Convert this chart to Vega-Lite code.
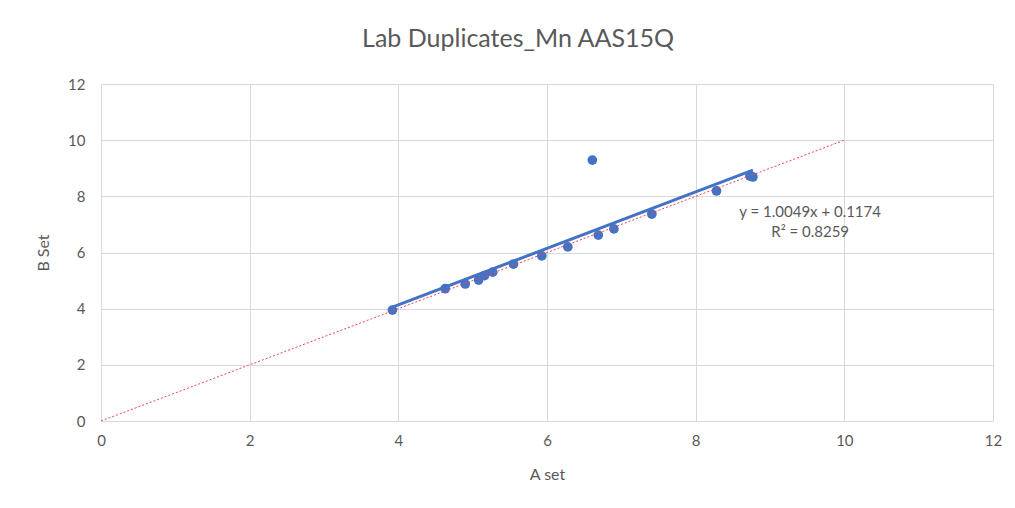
{
  "$schema": "https://vega.github.io/schema/vega-lite/v6.json",
  "width": 892,
  "height": 337,
  "autosize": {"type": "none"},
  "padding": {"left": 101, "top": 84, "right": 22, "bottom": 87},
  "background": "white",
  "title": {
    "text": "Lab Duplicates_Mn AAS15Q",
    "font": "Lato",
    "fontSize": 25,
    "fontWeight": "normal",
    "color": "#595959",
    "anchor": "middle",
    "dx": -29,
    "offset": 25
  },
  "datasets": {
    "points": [
      {"A": 3.92, "B": 3.95},
      {"A": 4.63, "B": 4.71},
      {"A": 4.90, "B": 4.88},
      {"A": 5.08, "B": 5.02},
      {"A": 5.16, "B": 5.18},
      {"A": 5.27, "B": 5.30},
      {"A": 5.55, "B": 5.59},
      {"A": 5.93, "B": 5.88},
      {"A": 6.28, "B": 6.20},
      {"A": 6.61, "B": 9.29},
      {"A": 6.69, "B": 6.62},
      {"A": 6.90, "B": 6.84},
      {"A": 7.41, "B": 7.37},
      {"A": 8.28, "B": 8.19},
      {"A": 8.73, "B": 8.72},
      {"A": 8.77, "B": 8.69}
    ],
    "trend": [
      {"A": 3.92, "B": 4.057},
      {"A": 8.77, "B": 8.93}
    ],
    "oneToOne": [
      {"A": 0, "B": 0},
      {"A": 10, "B": 10}
    ]
  },
  "config": {
    "view": {"stroke": null},
    "axis": {
      "labelFont": "Lato",
      "titleFont": "Lato",
      "labelColor": "#595959",
      "titleColor": "#595959",
      "labelFontSize": 15,
      "titleFontSize": 16,
      "titleFontWeight": "normal",
      "gridColor": "#d9d9d9",
      "gridWidth": 1,
      "ticks": false,
      "labelFlush": false,
      "domainColor": "#d9d9d9"
    }
  },
  "layer": [
    {
      "data": {"name": "trend"},
      "mark": {"type": "line", "color": "#4472c4", "strokeWidth": 3},
      "encoding": {
        "x": {
          "field": "A",
          "type": "quantitative",
          "scale": {"domain": [0, 12], "nice": false},
          "axis": {"values": [0, 2, 4, 6, 8, 10, 12], "format": "d", "title": "A set", "labelPadding": 12, "titlePadding": 18, "domain": true}
        },
        "y": {
          "field": "B",
          "type": "quantitative",
          "scale": {"domain": [0, 12], "nice": false},
          "axis": {"values": [0, 2, 4, 6, 8, 10, 12], "format": "d", "title": "B Set", "labelPadding": 16, "titlePadding": 16, "domain": false}
        }
      }
    },
    {
      "data": {"name": "points"},
      "mark": {"type": "circle", "color": "#4472c4", "opacity": 1, "size": 95},
      "encoding": {
        "x": {"field": "A", "type": "quantitative"},
        "y": {"field": "B", "type": "quantitative"}
      }
    },
    {
      "data": {"name": "oneToOne"},
      "mark": {"type": "line", "color": "#f0405a", "strokeWidth": 1, "strokeDash": [2, 2]},
      "encoding": {
        "x": {"field": "A", "type": "quantitative"},
        "y": {"field": "B", "type": "quantitative"}
      }
    },
    {
      "data": {"values": [{"label": "y = 1.0049x + 0.1174"}]},
      "mark": {"type": "text", "font": "Lato", "fontSize": 15, "color": "#595959", "align": "center", "baseline": "middle"},
      "encoding": {
        "x": {"datum": 9.54},
        "y": {"datum": 7.44},
        "text": {"field": "label"}
      }
    },
    {
      "data": {"values": [{"label": "R² = 0.8259"}]},
      "mark": {"type": "text", "font": "Lato", "fontSize": 15, "color": "#595959", "align": "center", "baseline": "middle"},
      "encoding": {
        "x": {"datum": 9.54},
        "y": {"datum": 6.73},
        "text": {"field": "label"}
      }
    }
  ]
}
